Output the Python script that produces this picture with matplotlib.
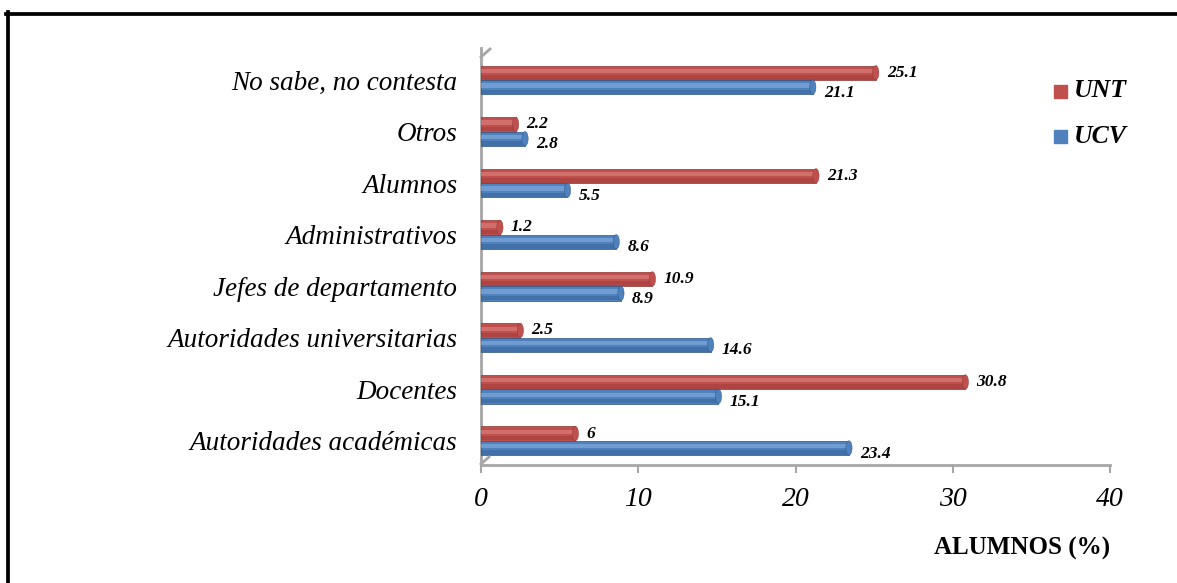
import numpy as np
import matplotlib.pyplot as plt
from matplotlib.lines import Line2D
from matplotlib.patches import Rectangle, Ellipse

categories = ['Autoridades académicas', 'Docentes', 'Autoridades universitarias',
              'Jefes de departamento', 'Administrativos', 'Alumnos', 'Otros',
              'No sabe, no contesta']
unt = [6, 30.8, 2.5, 10.9, 1.2, 21.3, 2.2, 25.1]
ucv = [23.4, 15.1, 14.6, 8.9, 8.6, 5.5, 2.8, 21.1]
unt_labels = ['6', '30.8', '2.5', '10.9', '1.2', '21.3', '2.2', '25.1']
ucv_labels = ['23.4', '15.1', '14.6', '8.9', '8.6', '5.5', '2.8', '21.1']
xticks = [0, 10, 20, 30, 40]

plt.rcParams['font.family'] = ['Liberation Serif', 'DejaVu Serif']

W, H = 1177, 583
fig = plt.figure(figsize=(W / 100, H / 100), dpi=100)
ax = fig.add_axes([481 / W, 1 - 465 / H, 629 / W, 417 / H])

y = np.arange(len(categories))
h = 0.28
red, red_dk, red_lt = '#C0504D', '#8E3330', '#E08A87'
blue, blue_dk, blue_lt = '#4F81BD', '#2C5487', '#8DB3E2'

def cyl(vals, yc, c, dk, lt):
    ax.barh(yc, vals, height=h, color=c, edgecolor=dk, linewidth=0.5, zorder=3)
    ax.barh(yc + h * 0.12, vals, height=h * 0.3, color=lt, alpha=0.55,
            linewidth=0, zorder=4)
    ax.barh(yc - h * 0.32, vals, height=h * 0.3, color=dk, alpha=0.35,
            linewidth=0, zorder=4)
    # rounded cylinder ends
    for v, yy in zip(vals, yc):
        ax.add_patch(Ellipse((v, yy), 0.4, h, facecolor=c, edgecolor=dk,
                             linewidth=0.3, zorder=5))

cyl(unt, y + h / 2, red, red_dk, red_lt)
cyl(ucv, y - h / 2, blue, blue_dk, blue_lt)

for yi, v, s in zip(y, unt, unt_labels):
    ax.annotate(s, (v, yi + h / 2), xytext=(8, 0), textcoords='offset points',
                va='center', ha='left', fontsize=12.5, fontweight='bold',
                style='italic')
for yi, v, s in zip(y, ucv, ucv_labels):
    ax.annotate(s, (v, yi - h / 2), xytext=(8, -4), textcoords='offset points',
                va='center', ha='left', fontsize=12.5, fontweight='bold',
                style='italic')

ax.set_xlim(0, 40)
ax.set_ylim(-0.47, 7.62)
ax.set_xticks(xticks)
ax.set_xticklabels([str(t) for t in xticks], fontsize=20, style='italic')
ax.set_yticks(y)
ax.set_yticklabels(categories, fontsize=19.5, style='italic')
ax.tick_params(axis='y', length=0, pad=17)
ax.tick_params(axis='x', length=6, width=1.5, color='#A6A6A6', pad=10)
for sp in ['top', 'right']:
    ax.spines[sp].set_visible(False)
for sp in ['left', 'bottom']:
    ax.spines[sp].set_color('#A6A6A6')
    ax.spines[sp].set_linewidth(2)

# small 3D wall corner at top of category axis
fig.add_artist(Line2D([481 / W, 490 / W], [1 - 57 / H, 1 - 49 / H],
                      color='#A6A6A6', lw=2, transform=fig.transFigure))
fig.add_artist(Line2D([481 / W, 489 / W], [1 - 464 / H, 1 - 457 / H],
                      color='#A6A6A6', lw=2, transform=fig.transFigure))

ax.text(1.0, -0.2, 'ALUMNOS (%)', transform=ax.transAxes, fontsize=18,
        fontweight='bold', ha='right', va='center')

# legend
for i, (lab, c) in enumerate([('UNT', red), ('UCV', blue)]):
    yy = 1 - (91 + 45 * i) / H
    fig.add_artist(Rectangle((1054 / W, yy - 7 / H), 13 / W, 13 / H,
                             transform=fig.transFigure, color=c))
    fig.text(1074 / W, yy, lab, fontsize=18.5, fontweight='bold', style='italic',
             va='center', ha='left')

# frame
fig.add_artist(Line2D([6 / W, 1], [1 - 14 / H, 1 - 14 / H], color='black',
                      lw=2.7, transform=fig.transFigure))
fig.add_artist(Line2D([8 / W, 8 / W], [0, 1 - 12 / H], color='black',
                      lw=2.7, transform=fig.transFigure))

fig.savefig('out.png', dpi=100)
